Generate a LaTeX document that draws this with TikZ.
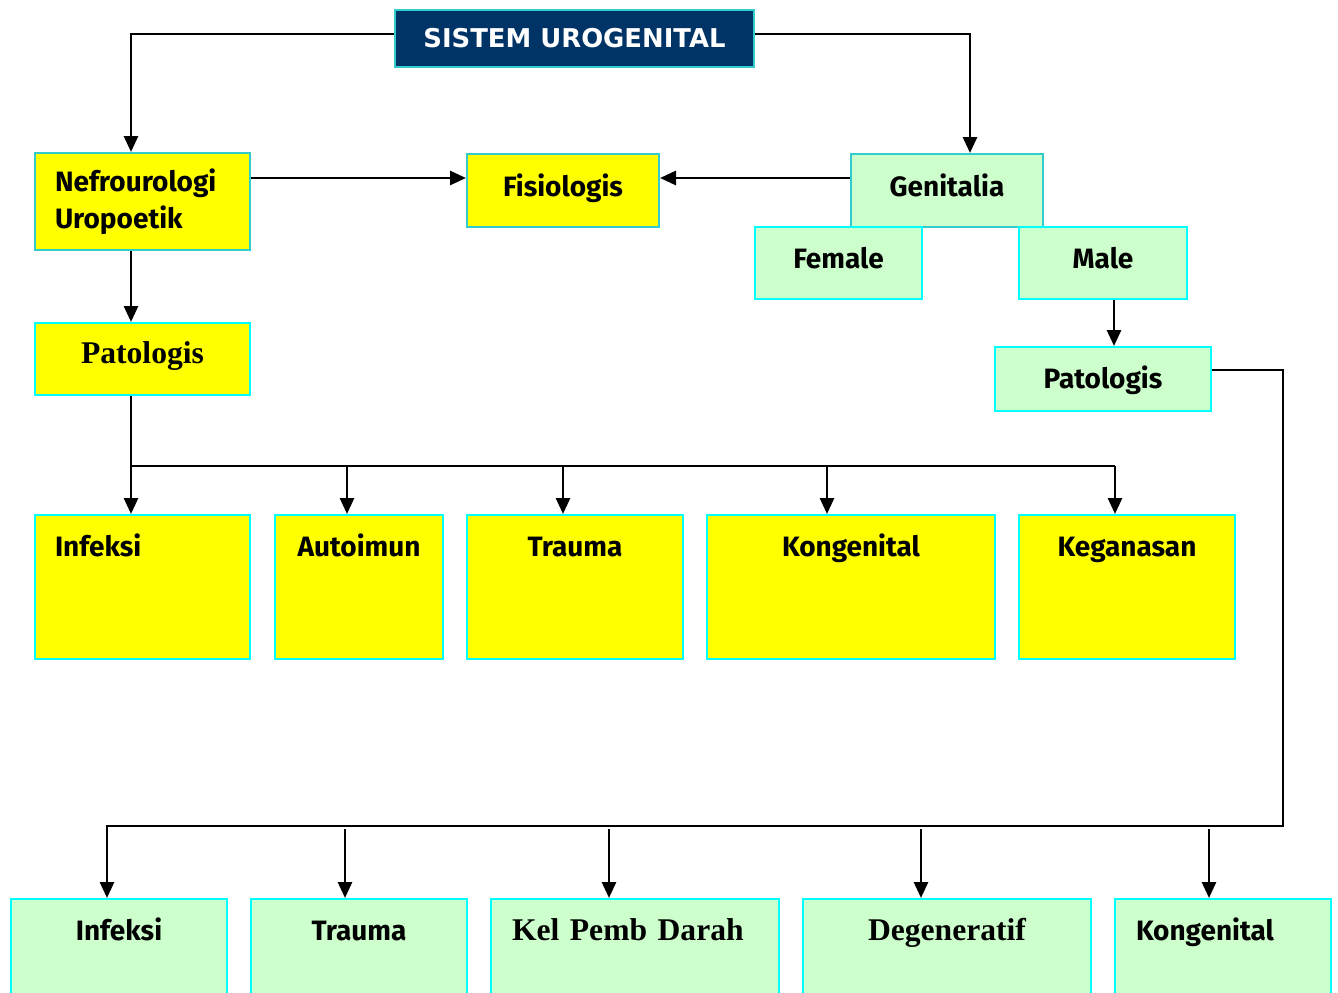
\documentclass[tikz,border=0pt]{standalone}
\usepackage{fontspec}
\setmainfont{Fira Sans}
\newfontfamily\tnr{Liberation Serif}
\newfontfamily\ttl{DejaVu Sans}
\usetikzlibrary{arrows.meta}
\definecolor{navy}{HTML}{003366}
\definecolor{teal1}{HTML}{33CCCC}
\definecolor{cyn}{HTML}{00FFFF}
\definecolor{ylw}{HTML}{FFFF00}
\definecolor{grn}{HTML}{CCFFCC}
\begin{document}
\begin{tikzpicture}[x=0.75pt,y=-0.75pt,
 box/.style={draw=cyn, line width=1.5pt, inner sep=0pt, font=\fontsize{21}{27.75}\selectfont\bfseries},
 ybox/.style={box, fill=ylw},
 gbox/.style={box, fill=grn},
 serif/.style={font=\tnr\fontsize{23.7}{28}\selectfont\bfseries},
 toprow/.style={anchor=north, text height=30.75pt, text depth=77.25pt},
 botrow/.style={anchor=north, text height=30.75pt, text depth=60pt},
 conn/.style={line width=2.1pt},
 arr/.style={conn, -{Triangle[length=12pt,width=10.5pt]}}]
\useasboundingbox (0,0) rectangle (1338,992);
\clip (0,0) rectangle (1338,992);

% top
\node[box, fill=navy, draw=teal1, text=white, minimum width=269.25pt, minimum height=42.75pt,
      font=\ttl\bfseries\fontsize{19.4}{22}\selectfont] (title) at (574.5,38.5) {SISTEM UROGENITAL};

\node[ybox, draw=teal1, minimum width=161.25pt, minimum height=72.75pt, text width=131.25pt, align=left]
  (nef) at (142.5,201.5) {Nefrourologi\\Uropoetik};
\node[ybox, draw=teal1, anchor=north, minimum width=144pt, text height=31.5pt, text depth=23.25pt]
  (fis) at (563,153) {Fisiologis};
\node[gbox, draw=teal1, anchor=north, minimum width=144pt, text height=31.5pt, text depth=23.25pt]
  (gen) at (947,153) {Genitalia};
\node[gbox, anchor=north, minimum width=125.25pt, text height=30.75pt, text depth=23.25pt]
  (fem) at (838.5,226) {Female};
\node[gbox, anchor=north, minimum width=126pt, text height=30.75pt, text depth=23.25pt]
  (male) at (1103,226) {Male};
\node[gbox, anchor=north, minimum width=162pt, text height=30.75pt, text depth=17.25pt]
  (pat2) at (1103,346) {Patologis};
\node[ybox, serif, anchor=north, minimum width=161.25pt, text height=30pt, text depth=24pt]
  (pat1) at (142.5,322) {Patologis};

% yellow row
\node[ybox, toprow, minimum width=161.25pt, text width=131.25pt, align=left] (inf1) at (142.5,514) {Infeksi};
\node[ybox, toprow, minimum width=126pt] (auto) at (359,514) {Autoimun};
\node[ybox, toprow, minimum width=162pt] (trau1) at (575,514) {Trauma};
\node[ybox, toprow, minimum width=216pt] (kong1) at (851,514) {Kongenital};
\node[ybox, toprow, minimum width=162pt] (keg) at (1127,514) {Keganasan};

% green row
\node[gbox, botrow, minimum width=162pt] (inf2) at (119,898) {Infeksi};
\node[gbox, botrow, minimum width=162pt] (trau2) at (359,898) {Trauma};
\node[gbox, botrow, serif, minimum width=216pt, text width=184.5pt, align=left] (kel) at (635,898) {Kel Pemb Darah};
\node[gbox, botrow, serif, minimum width=216pt] (deg) at (947,898) {Degeneratif};
\node[gbox, botrow, minimum width=162pt, text width=130.5pt, align=left] (kong2) at (1223,898) {Kongenital};

% connectors
\draw[arr] (title.west |- 0,34) -| (131,0 |- nef.north);
\draw[arr] (title.east |- 0,34) -| (970,0 |- gen.north);
\draw[arr] (nef.east |- 0,178) -- (fis.west |- 0,178);
\draw[arr] (gen.west |- 0,178) -- (fis.east |- 0,178);
\draw[arr] (131,0 |- nef.south) -- (131,0 |- pat1.north);
\draw[arr] (131,0 |- pat1.south) -- (131,0 |- inf1.north);
\coordinate (bus1) at (131,466);
\draw[conn] (bus1) -- (1115,466);
\draw[arr] (347,466) -- (347,0 |- auto.north);
\draw[arr] (563,466) -- (563,0 |- trau1.north);
\draw[arr] (827,466) -- (827,0 |- kong1.north);
\draw[arr] (1115,466) -- (1115,0 |- keg.north);
\draw[arr] (1114,0 |- male.south) -- (1114,0 |- pat2.north);
\draw[arr] (pat2.east |- 0,370) -| (1283,826) -| (107,0 |- inf2.north);
\draw[arr] (345,829) -- (345,0 |- trau2.north);
\draw[arr] (609,829) -- (609,0 |- kel.north);
\draw[arr] (921,829) -- (921,0 |- deg.north);
\draw[arr] (1209,829) -- (1209,0 |- kong2.north);
\end{tikzpicture}
\end{document}
